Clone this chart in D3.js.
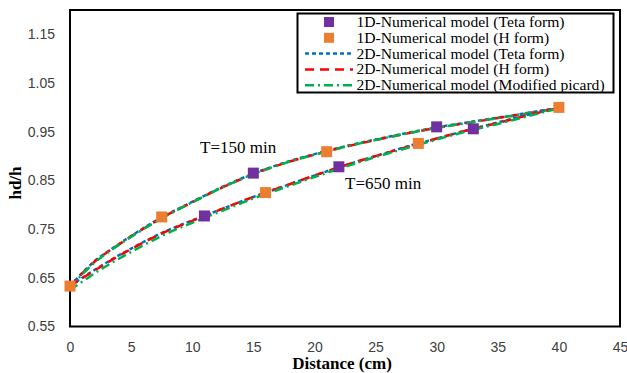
<!DOCTYPE html>
<html><head><meta charset="utf-8">
<script src="https://cdn.jsdelivr.net/npm/d3@7"></script>
<style>body{margin:0;background:#fff}</style>
</head><body><svg id="c" width="627" height="373"></svg>
<script>
// ---- data ----
const xTicks = [0,5,10,15,20,25,30,35,40,45];
const yTicks = [0.55,0.65,0.75,0.85,0.95,1.05,1.15];

// 1D numerical model points (both times)
const tetaX = [11, 15, 22, 30, 33];
const tetaY = [0.777, 0.865, 0.878, 0.960, 0.956];
const hX = [0, 7.5, 16, 21, 28.5, 40];
const hY = [0.633, 0.775, 0.825, 0.909, 0.926, 1.000];

// 2D model curves
const curveX = [0, 1, 2, 3.5, 5, 7.5, 10, 12.5, 15, 17.5, 20, 22.5, 25, 27.5, 30, 32.5, 35, 37.5, 40];
// T = 150 min
const t150Teta = [0.633,0.660,0.684,0.711,0.736,0.774,0.806,0.837,0.864,0.886,0.904,0.920,0.934,0.947,0.959,0.969,0.979,0.989,0.999];
const t150H    = [0.633,0.659,0.683,0.710,0.735,0.773,0.805,0.836,0.863,0.885,0.903,0.919,0.933,0.946,0.958,0.968,0.978,0.988,0.999];
const t150MP   = [0.630,0.657,0.681,0.709,0.734,0.772,0.805,0.836,0.863,0.885,0.903,0.919,0.933,0.946,0.958,0.968,0.978,0.988,0.999];
// T = 650 min
const t650Teta = [0.633,0.650,0.666,0.689,0.710,0.742,0.768,0.792,0.816,0.838,0.860,0.881,0.900,0.919,0.936,0.953,0.969,0.985,0.999];
const t650H    = [0.633,0.649,0.665,0.688,0.709,0.741,0.767,0.792,0.816,0.838,0.860,0.881,0.900,0.918,0.936,0.953,0.968,0.984,0.999];
const t650MP   = [0.625,0.642,0.659,0.682,0.703,0.736,0.763,0.788,0.813,0.835,0.857,0.878,0.898,0.916,0.934,0.951,0.966,0.982,0.998];

const legendLabels = ["1D-Numerical model (Teta form)","1D-Numerical model (H form)","2D-Numerical model (Teta form)","2D-Numerical model (H form)","2D-Numerical model (Modified picard)"];

// ---- drawing ----
const svg = d3.select("#c");
const L = 70, R = 620, T = 10, B = 326.5;
const x = d3.scaleLinear().domain([0,45]).range([L,R]);
const y = d3.scaleLinear().domain([0.55,1.2]).range([B,T]);

const serif = "'Liberation Serif','Times New Roman',serif";
const sans = "'Liberation Sans',Arial,sans-serif";

// axes (labels only, no tick marks)
const xAxis = svg.append("g").attr("transform",`translate(0,${B})`)
  .call(d3.axisBottom(x).tickValues(xTicks).tickSize(0).tickPadding(16).tickFormat(d3.format("d")));
xAxis.select(".domain").remove();
const yAxis = svg.append("g").attr("transform",`translate(${L},0)`)
  .call(d3.axisLeft(y).tickValues(yTicks).tickSize(0).tickPadding(15).tickFormat(d3.format(".2f")));
yAxis.select(".domain").remove();
svg.selectAll(".tick text").attr("font-family",sans).attr("font-size",14).attr("fill","#404040");

// frame
svg.append("rect").attr("x",L).attr("y",T).attr("width",R-L).attr("height",B-T)
  .attr("fill","none").attr("stroke","#000").attr("stroke-width",2);

const styles = [
  {color:"#0070C0", dash:"4,3", w:2.5},
  {color:"#FF0000", dash:"9,6", w:2.5},
  {color:"#00B050", dash:"9,4,2,4", w:2.5}
];
const line = d3.line().x(d=>x(d[0])).y(d=>y(d[1])).curve(d3.curveMonotoneX);
const series150 = [t150Teta,t150H,t150MP];
const series650 = [t650Teta,t650H,t650MP];
[series150, series650].forEach(set=>{
  set.forEach((vals,i)=>{
    svg.append("path").datum(curveX.map((cx,k)=>[cx,vals[k]]))
      .attr("d",line).attr("fill","none")
      .attr("stroke",styles[i].color).attr("stroke-width",styles[i].w)
      .attr("stroke-dasharray",styles[i].dash);
  });
});

const ms = 11;
svg.append("g").selectAll("rect").data(tetaX.map((v,i)=>[v,tetaY[i]])).join("rect")
  .attr("x",d=>x(d[0])-ms/2).attr("y",d=>y(d[1])-ms/2).attr("width",ms).attr("height",ms).attr("fill","#7030A0");
svg.append("g").selectAll("rect").data(hX.map((v,i)=>[v,hY[i]])).join("rect")
  .attr("x",d=>x(d[0])-ms/2).attr("y",d=>y(d[1])-ms/2).attr("width",ms).attr("height",ms).attr("fill","#ED7D31");

// annotations
svg.append("text").attr("x",200).attr("y",152.5).attr("font-family",serif).attr("font-size",17).text("T=150 min");
svg.append("text").attr("x",345).attr("y",188.5).attr("font-family",serif).attr("font-size",17).text("T=650 min");

// axis titles
svg.append("text").attr("x",342).attr("y",369).attr("text-anchor","middle").attr("font-family",serif)
  .attr("font-weight","bold").attr("font-size",17).text("Distance (cm)");
svg.append("text").attr("transform","translate(21,183) rotate(-90)").attr("text-anchor","middle")
  .attr("font-family",serif).attr("font-weight","bold").attr("font-size",17).text("hd/h");

// legend
const lg = svg.append("g");
lg.append("rect").attr("x",297.5).attr("y",13.5).attr("width",316).attr("height",79)
  .attr("fill","#fff").attr("stroke","#000").attr("stroke-width",2);
const rowY = [22, 37.8, 53.6, 69.4, 85.2];
lg.append("rect").attr("x",329-5).attr("y",rowY[0]-5).attr("width",10).attr("height",10).attr("fill","#7030A0");
lg.append("rect").attr("x",329-5).attr("y",rowY[1]-5).attr("width",10).attr("height",10).attr("fill","#ED7D31");
styles.forEach((s,i)=>{
  lg.append("line").attr("x1",305).attr("x2",353).attr("y1",rowY[i+2]).attr("y2",rowY[i+2])
    .attr("stroke",s.color).attr("stroke-width",s.w).attr("stroke-dasharray",s.dash);
});
legendLabels.forEach((t,i)=>{
  lg.append("text").attr("x",356.5).attr("y",rowY[i]+5).attr("font-family",serif).attr("font-size",15.6).text(t);
});
</script></body></html>
